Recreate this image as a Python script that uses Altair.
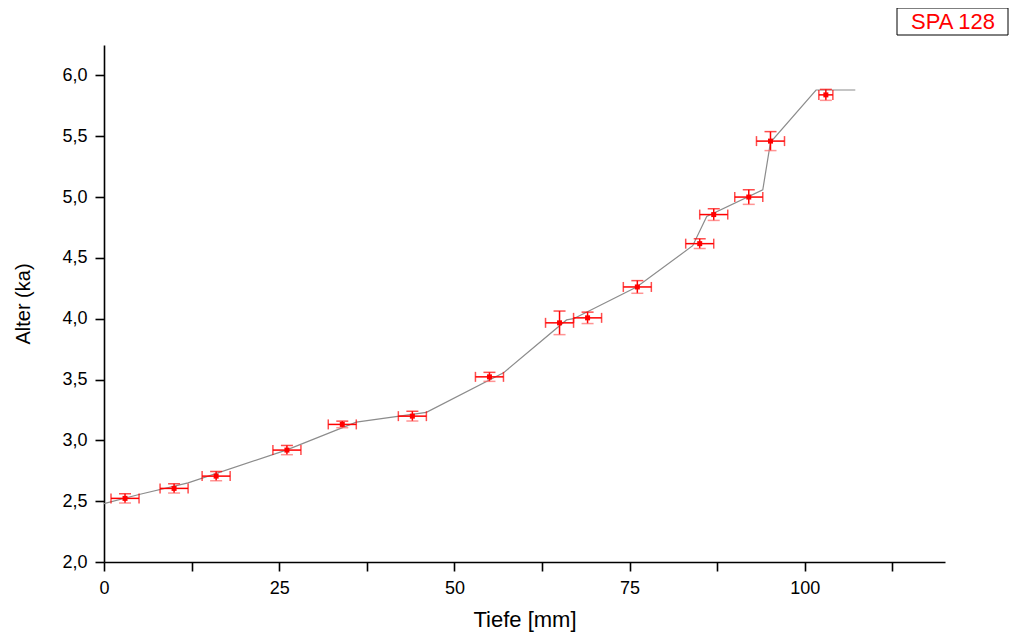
import altair as alt
import pandas as pd

# Measured samples (depth in mm, age in ka)
depth = [3.0, 10.0, 16.0, 26.1, 34.0, 44.0, 55.0, 65.0, 69.0, 76.1, 85.0, 87.0, 92.0, 95.1, 103.0]
age = [2.523, 2.605, 2.706, 2.92, 3.131, 3.199, 3.522, 3.966, 4.007, 4.261, 4.617, 4.856, 5.0, 5.46, 5.84]
depth_err = [2, 2, 2, 2, 2, 2, 2, 2, 2, 2, 2, 2, 2, 2, 1]
age_err = [0.038, 0.038, 0.038, 0.038, 0.027, 0.04, 0.037, 0.097, 0.047, 0.052, 0.04, 0.048, 0.06, 0.078, 0.045]

# Age model line
model_depth = [0, 5, 12, 26, 36, 46, 57, 66, 67, 76, 84, 86, 94, 95.1, 101.6, 107.2]
model_age = [2.48, 2.555, 2.65, 2.92, 3.15, 3.23, 3.555, 3.99, 4.0, 4.26, 4.60, 4.84, 5.06, 5.45, 5.88, 5.88]

x_ticks = [0, 12.5, 25, 37.5, 50, 62.5, 75, 87.5, 100, 112.5]
y_ticks = [2.0, 2.25, 2.5, 2.75, 3.0, 3.25, 3.5, 3.75, 4.0, 4.25, 4.5, 4.75, 5.0, 5.25, 5.5, 5.75, 6.0]
label_text = ["SPA 128"]

pts = pd.DataFrame({
    "depth": depth, "age": age,
    "dlo": [d - e for d, e in zip(depth, depth_err)],
    "dhi": [d + e for d, e in zip(depth, depth_err)],
    "alo": [a - e for a, e in zip(age, age_err)],
    "ahi": [a + e for a, e in zip(age, age_err)],
})
model = pd.DataFrame({"depth": model_depth, "age": model_age})

xscale = alt.Scale(domain=[0, 120], nice=False, zero=False)
yscale = alt.Scale(domain=[2.0, 6.25], nice=False, zero=False)

xaxis = alt.Axis(
    title="Tiefe [mm]", values=x_ticks, grid=False, labelFlush=False,
    labelExpr="datum.value % 25 === 0 ? format(datum.value, 'd') : ''",
    tickSize=9,
    labelPadding=8, titlePadding=12, labelFontSize=18, titleFontSize=22,
    titleFontWeight="normal", domainColor="black", tickColor="black",
    labelColor="black", titleColor="black",
)
yaxis = alt.Axis(
    title="Alter (ka)", values=y_ticks, grid=False, labelFlush=False,
    labelExpr="datum.value % 0.5 === 0 ? replace(format(datum.value, '.1f'), '.', ',') : ''",
    tickSize={"condition": {"test": "datum.value % 0.5 === 0", "value": 9}, "value": 5},
    labelPadding=8, titlePadding=28, labelFontSize=18, titleFontSize=20,
    titleFontWeight="normal", domainColor="black", tickColor="black",
    labelColor="black", titleColor="black",
)

base = alt.Chart(pts)

line = alt.Chart(model).mark_line(color="#8c8c8c", strokeWidth=1.2).encode(
    x=alt.X("depth:Q", scale=xscale, axis=xaxis),
    y=alt.Y("age:Q", scale=yscale, axis=yaxis),
)

hbar = base.mark_rule(color="#ff0000", strokeWidth=1.5).encode(
    x=alt.X("dlo:Q", scale=xscale), x2="dhi:Q", y=alt.Y("age:Q", scale=yscale))
vbar = base.mark_rule(color="#ff0000", strokeWidth=1.5).encode(
    x=alt.X("depth:Q", scale=xscale), y=alt.Y("alo:Q", scale=yscale), y2="ahi:Q")
hcap_l = base.mark_tick(color="#ff0000", orient="vertical", size=10, thickness=1.5).encode(
    x=alt.X("dlo:Q", scale=xscale), y=alt.Y("age:Q", scale=yscale))
hcap_r = base.mark_tick(color="#ff0000", orient="vertical", size=10, thickness=1.5).encode(
    x=alt.X("dhi:Q", scale=xscale), y=alt.Y("age:Q", scale=yscale))
vcap_lo = base.mark_tick(color="#ff6666", orient="horizontal", size=12, thickness=1.5).encode(
    x=alt.X("depth:Q", scale=xscale), y=alt.Y("alo:Q", scale=yscale))
vcap_hi = base.mark_tick(color="#ff0000", orient="horizontal", size=12, thickness=1.5).encode(
    x=alt.X("depth:Q", scale=xscale), y=alt.Y("ahi:Q", scale=yscale))
dots = base.mark_square(color="#ff0000", size=25, opacity=1).encode(
    x=alt.X("depth:Q", scale=xscale), y=alt.Y("age:Q", scale=yscale))

lab = pd.DataFrame({"label": label_text})
box = alt.Chart(lab).mark_rect(fill="white", stroke="black", strokeWidth=1).encode(
    x=alt.value(793), x2=alt.value(904), y=alt.value(-37), y2=alt.value(-10))
txt = alt.Chart(lab).mark_text(color="#ff0000", font="Liberation Sans", fontSize=22,
                               align="center", baseline="middle").encode(
    x=alt.value(849), y=alt.value(-23), text="label:N")

chart = alt.layer(line, hbar, vbar, hcap_l, hcap_r, vcap_lo, vcap_hi, dots, box, txt).properties(
    width=841, height=517,
    background="white",
    autosize=alt.AutoSizeParams(type="none"),
    padding={"left": 96, "top": 37, "right": 66, "bottom": 70},
).configure_view(stroke=None).configure_axis(
    domainColor="black", domainWidth=1.6, tickColor="black", tickWidth=1.6,
    labelColor="black", titleColor="black", labelFont="Liberation Sans",
    titleFont="Liberation Sans", titleFontWeight="normal",
)

chart.save("out.html", embed_options={"renderer": "svg", "actions": False})
